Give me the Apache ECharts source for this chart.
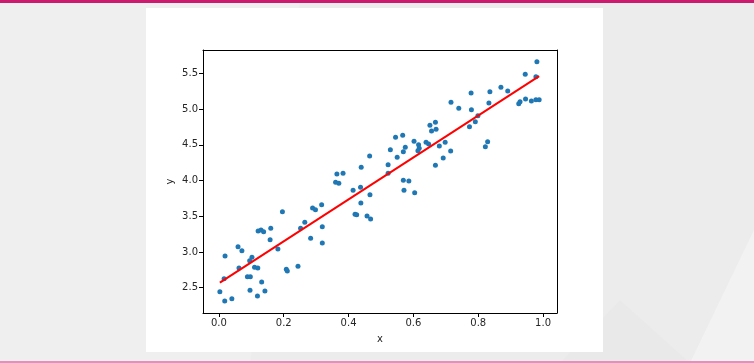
<!DOCTYPE html>
<html>
<head>
<meta charset="utf-8">
<script src="https://cdn.jsdelivr.net/npm/echarts@6/dist/echarts.min.js"></script>
<style>
html,body{margin:0;padding:0;}
body{position:relative;width:754px;height:363px;overflow:hidden;background:#ececec;}
.bg{position:absolute;}
#p1{left:0;top:0;width:754px;height:363px;background:#efefef;clip-path:polygon(0 0,300px 0,250px 363px,0 363px);}
#p2{left:0;top:0;width:754px;height:363px;background:#f2f2f2;clip-path:polygon(690px 363px,754px 230px,754px 363px);}
#p3{left:0;top:0;width:754px;height:363px;background:#e9e9e9;clip-path:polygon(560px 363px,620px 300px,690px 363px);}
#topbar{left:0;top:0;width:754px;height:2.5px;background:#cc1a6e;}
#botbar{left:0;top:360.5px;width:754px;height:2.5px;background:#e58fbe;}
#panel{left:146px;top:8px;width:457px;height:344px;background:#fff;}
#c{position:absolute;left:0;top:0;width:754px;height:363px;}
</style>
</head>
<body>
<div class="bg" id="p1"></div>
<div class="bg" id="p2"></div>
<div class="bg" id="p3"></div>
<div class="bg" id="topbar"></div>
<div class="bg" id="botbar"></div>
<div class="bg" id="panel"></div>
<div id="c"></div>
<script>
// Scatter data
const xs = [0.003,0.018,0.040,0.019,0.016,0.059,0.071,0.062,0.088,0.097,0.095,0.102,0.096,0.110,0.120,0.119,0.132,0.142,0.121,0.130,0.138,0.160,0.158,0.182,0.196,0.208,0.211,0.244,0.252,0.265,0.283,0.289,0.298,0.317,0.319,0.319,0.360,0.370,0.364,0.383,0.414,0.420,0.425,0.437,0.438,0.457,0.468,0.466,0.439,0.465,0.522,0.522,0.529,0.545,0.567,0.550,0.569,0.575,0.602,0.616,0.618,0.614,0.639,0.647,0.651,0.668,0.656,0.670,0.680,0.698,0.692,0.668,0.715,0.716,0.740,0.773,0.778,0.779,0.791,0.799,0.822,0.829,0.833,0.836,0.870,0.891,0.925,0.929,0.945,0.946,0.964,0.978,0.988,0.978,0.981,0.569,0.586,0.571,0.604];
const ys = [2.444,2.314,2.346,2.944,2.626,3.074,3.018,2.776,2.654,2.654,2.878,2.925,2.464,2.785,2.776,2.384,2.580,2.454,3.293,3.307,3.284,3.331,3.172,3.042,3.564,2.757,2.734,2.799,3.331,3.415,3.191,3.615,3.592,3.662,3.354,3.125,3.975,3.961,4.091,4.100,3.863,3.527,3.522,3.905,3.685,3.503,3.461,3.801,4.185,4.343,4.221,4.100,4.431,4.604,4.632,4.325,4.403,4.465,4.549,4.501,4.451,4.417,4.535,4.511,4.772,4.814,4.693,4.716,4.483,4.535,4.315,4.213,4.413,5.094,5.010,4.753,5.224,4.991,4.823,4.907,4.473,4.543,5.084,5.243,5.304,5.252,5.075,5.103,5.486,5.140,5.112,5.131,5.131,5.452,5.662,4.003,3.993,3.863,3.829];
// Fitted line endpoints
const lineX = [0.003, 0.988];
const lineY = [2.570, 5.460];
// Tick values
const xTicks = [0.0,0.2,0.4,0.6,0.8,1.0];
const yTicks = [2.5,3.0,3.5,4.0,4.5,5.0,5.5];

const chart = echarts.init(document.getElementById('c'), null, {renderer:'canvas'});
const font = 'DejaVu Sans';
const XMIN = -0.049, XMAX = 1.043, YMIN = 2.146, YMAX = 5.826;
const line = {show:true, onZero:false, lineStyle:{color:'#000', width:1}};
const lbl = {color:'#262626', fontFamily:font, fontSize:10, margin:5};
const tick = {show:true, length:4, inside:false, lineStyle:{color:'#000', width:1}};
chart.setOption({
  backgroundColor:'transparent',
  animation:false,
  grid:{left:203, top:50, width:354, height:263},
  xAxis:[
    {type:'value', min:XMIN, max:XMAX, position:'bottom', name:'x', nameLocation:'middle', nameGap:21,
     nameTextStyle:{color:'#262626', fontFamily:font, fontSize:10},
     axisLine:line, splitLine:{show:false},
     axisTick:Object.assign({}, tick, {customValues:xTicks}),
     axisLabel:Object.assign({}, lbl, {customValues:xTicks, formatter:v=>v.toFixed(1)})},
    {type:'value', min:XMIN, max:XMAX, position:'top', axisLine:line, axisTick:{show:false}, axisLabel:{show:false}, splitLine:{show:false}}
  ],
  yAxis:[
    {type:'value', min:YMIN, max:YMAX, position:'left', name:'y', nameLocation:'middle', nameGap:28, nameRotate:90,
     nameTextStyle:{color:'#262626', fontFamily:font, fontSize:10},
     axisLine:line, splitLine:{show:false},
     axisTick:Object.assign({}, tick, {customValues:yTicks}),
     axisLabel:Object.assign({}, lbl, {customValues:yTicks, formatter:v=>v.toFixed(1)})},
    {type:'value', min:YMIN, max:YMAX, position:'right', axisLine:line, axisTick:{show:false}, axisLabel:{show:false}, splitLine:{show:false}}
  ],
  series:[
    {type:'scatter', symbolSize:5, itemStyle:{color:'#1f77b4', opacity:1}, data:xs.map((x,i)=>[x,ys[i]]), z:2},
    {type:'line', showSymbol:false, symbol:'none', lineStyle:{color:'#ff0000', width:2}, data:lineX.map((x,i)=>[x,lineY[i]]), z:3}
  ]
});
</script>
</body>
</html>
